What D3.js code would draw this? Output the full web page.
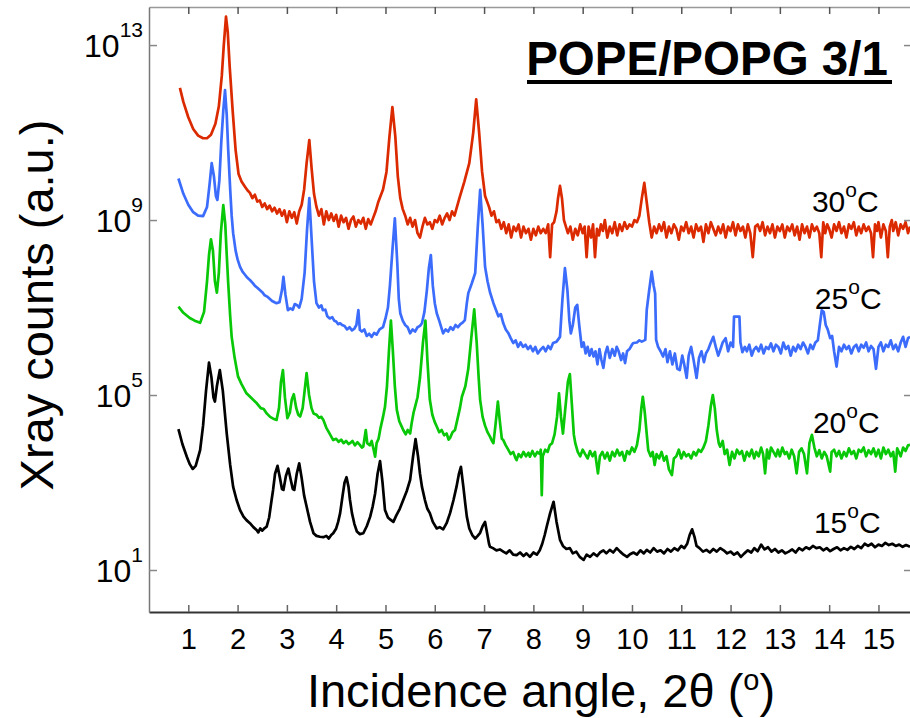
<!DOCTYPE html>
<html>
<head>
<meta charset="utf-8">
<script src="https://cdn.jsdelivr.net/npm/d3@7"></script>
<style>
  body { margin: 0; background: #fff; }
  svg text { font-family: "Liberation Sans", Arial, sans-serif; fill: #000; }
</style>
</head>
<body>
<svg id="chart" width="910" height="718"></svg>
<script>
// values: [angle 2theta (deg), log10 of xray counts]
var series30 = [[0.83,12.02],[0.9,11.7],[1.0,11.35],[1.1,11.08],[1.2,10.93],[1.3,10.87],[1.38,10.87],[1.46,10.95],[1.55,11.2],[1.62,11.6],[1.68,12.3],[1.72,13.0],[1.765,13.65],[1.8,13.3],[1.84,12.5],[1.9,11.5],[1.96,10.6],[2.02,10.05],[2.08,9.88],[2.15,9.76],[2.2,9.68],[2.25,9.62],[2.3,9.5],[2.35,9.58],[2.4,9.42],[2.45,9.45],[2.5,9.3],[2.55,9.38],[2.6,9.25],[2.65,9.33],[2.7,9.2],[2.75,9.28],[2.8,9.15],[2.85,9.25],[2.9,9.1],[2.95,9.22],[3.0,8.95],[3.05,9.2],[3.1,9.05],[3.15,9.18],[3.2,8.92],[3.25,9.2],[3.3,9.35],[3.35,9.7],[3.4,10.3],[3.455,10.83],[3.5,10.2],[3.55,9.6],[3.6,9.3],[3.65,9.1],[3.7,9.25],[3.75,8.9],[3.8,9.2],[3.85,9.0],[3.9,9.15],[3.95,8.98],[4.0,9.12],[4.05,8.85],[4.1,9.1],[4.15,8.95],[4.2,9.05],[4.25,8.8],[4.3,9.0],[4.35,9.08],[4.4,8.85],[4.45,9.0],[4.5,8.92],[4.55,9.05],[4.6,8.8],[4.65,9.02],[4.7,8.9],[4.75,9.05],[4.8,9.2],[4.85,9.4],[4.95,9.7],[5.02,10.1],[5.08,10.9],[5.14,11.58],[5.2,10.9],[5.25,10.0],[5.3,9.5],[5.35,9.25],[5.4,9.1],[5.45,8.9],[5.5,9.05],[5.55,8.85],[5.6,9.0],[5.65,8.7],[5.7,8.6],[5.75,8.85],[5.8,9.05],[5.85,8.9],[5.9,8.95],[5.95,8.8],[6.0,9.0],[6.05,8.95],[6.1,9.1],[6.15,8.9],[6.2,9.05],[6.25,9.15],[6.3,9.0],[6.35,9.2],[6.4,9.1],[6.45,9.3],[6.5,9.5],[6.6,9.88],[6.7,10.3],[6.78,11.0],[6.84,11.76],[6.9,11.0],[6.96,10.1],[7.02,9.55],[7.1,9.3],[7.15,9.1],[7.2,9.2],[7.25,8.95],[7.3,9.0],[7.35,8.8],[7.4,8.95],[7.45,8.7],[7.5,8.9],[7.55,8.6],[7.6,8.85],[7.65,8.75],[7.7,8.9],[7.75,8.6],[7.8,8.85],[7.85,8.7],[7.9,8.8],[7.95,8.55],[8.0,8.8],[8.05,8.65],[8.1,8.85],[8.15,8.7],[8.2,8.8],[8.25,8.7],[8.3,8.9],[8.34,8.15],[8.38,8.9],[8.42,8.95],[8.47,9.2],[8.5,9.5],[8.54,9.78],[8.58,9.5],[8.62,9.0],[8.66,8.85],[8.7,8.7],[8.75,8.85],[8.8,8.55],[8.85,8.8],[8.9,8.65],[8.95,8.9],[9.0,8.7],[9.04,8.85],[9.08,8.15],[9.12,8.85],[9.17,8.6],[9.21,8.9],[9.25,8.15],[9.29,8.8],[9.33,8.65],[9.37,8.9],[9.41,8.75],[9.45,9.0],[9.5,8.6],[9.55,8.85],[9.6,8.7],[9.65,8.95],[9.7,8.65],[9.75,8.9],[9.8,8.75],[9.85,8.95],[9.9,8.8],[9.95,8.9],[10.0,8.85],[10.05,9.0],[10.1,8.95],[10.15,9.1],[10.2,9.5],[10.25,9.85],[10.3,9.4],[10.35,8.95],[10.4,8.6],[10.45,8.85],[10.5,8.7],[10.55,8.9],[10.6,8.75],[10.65,8.95],[10.7,8.6],[10.75,8.85],[10.8,8.7],[10.85,8.9],[10.9,8.8],[10.95,8.55],[11.0,8.85],[11.05,8.75],[11.1,8.95],[11.15,8.7],[11.2,8.85],[11.25,8.6],[11.3,8.9],[11.35,8.75],[11.4,8.85],[11.45,8.5],[11.5,8.9],[11.55,8.7],[11.6,8.95],[11.65,8.8],[11.7,8.65],[11.75,8.85],[11.8,8.7],[11.85,8.9],[11.9,8.6],[11.95,8.85],[12.0,8.75],[12.05,8.95],[12.1,8.65],[12.15,8.9],[12.2,8.75],[12.25,8.85],[12.3,8.6],[12.35,8.9],[12.4,8.7],[12.45,8.15],[12.5,8.85],[12.55,8.9],[12.6,8.75],[12.65,8.95],[12.7,8.65],[12.75,8.85],[12.8,8.7],[12.85,8.9],[12.9,8.6],[12.95,8.85],[13.0,8.75],[13.05,8.9],[13.1,8.6],[13.15,8.85],[13.2,8.75],[13.25,8.9],[13.3,8.65],[13.35,8.85],[13.4,8.55],[13.45,8.9],[13.5,8.7],[13.55,8.85],[13.6,8.6],[13.65,8.9],[13.7,8.75],[13.75,8.85],[13.8,8.7],[13.84,8.15],[13.88,8.95],[13.92,8.7],[13.96,8.9],[14.0,8.8],[14.05,8.6],[14.1,8.9],[14.15,8.75],[14.2,8.95],[14.25,8.7],[14.3,8.85],[14.35,8.6],[14.4,8.9],[14.45,8.8],[14.5,8.95],[14.55,8.65],[14.6,8.85],[14.65,8.7],[14.7,8.9],[14.75,8.75],[14.8,8.85],[14.85,8.7],[14.89,8.15],[14.93,8.9],[14.97,8.75],[15.0,8.95],[15.05,8.6],[15.1,8.9],[15.15,8.75],[15.19,8.15],[15.23,8.85],[15.27,9.0],[15.3,8.75],[15.35,8.95],[15.4,8.65],[15.45,8.9],[15.5,8.8],[15.55,8.95],[15.6,8.7],[15.64,8.85]];

var series25 = [[0.80,9.95],[0.9,9.6],[1.0,9.35],[1.1,9.18],[1.2,9.1],[1.3,9.09],[1.38,9.3],[1.43,9.8],[1.475,10.3],[1.52,10.0],[1.56,9.55],[1.59,9.46],[1.63,9.9],[1.67,10.8],[1.71,11.5],[1.745,11.97],[1.78,11.4],[1.81,10.6],[1.85,9.7],[1.88,9.1],[1.91,8.7],[1.96,8.3],[2.0,8.1],[2.05,7.93],[2.1,7.82],[2.15,7.75],[2.2,7.68],[2.25,7.63],[2.3,7.57],[2.35,7.5],[2.4,7.45],[2.45,7.4],[2.5,7.35],[2.55,7.28],[2.6,7.25],[2.65,7.2],[2.7,7.15],[2.75,7.12],[2.79,7.1],[2.85,7.12],[2.9,7.4],[2.93,7.7],[2.97,7.3],[3.02,6.94],[3.07,6.98],[3.12,6.95],[3.16,7.08],[3.2,7.06],[3.25,7.0],[3.3,7.2],[3.36,7.8],[3.41,8.8],[3.455,9.5],[3.5,8.6],[3.55,7.6],[3.6,7.1],[3.65,7.0],[3.7,7.05],[3.73,6.94],[3.78,6.95],[3.82,6.8],[3.87,6.75],[3.92,6.78],[3.96,6.7],[4.0,6.68],[4.04,6.62],[4.08,6.64],[4.12,6.6],[4.17,6.58],[4.22,6.5],[4.27,6.55],[4.32,6.48],[4.37,6.52],[4.41,6.6],[4.45,6.94],[4.48,6.49],[4.52,6.45],[4.57,6.5],[4.62,6.35],[4.67,6.4],[4.72,6.33],[4.77,6.42],[4.82,6.38],[4.88,6.5],[4.95,6.55],[5.0,6.75],[5.05,7.0],[5.09,7.5],[5.14,8.3],[5.19,9.04],[5.24,8.0],[5.27,7.2],[5.3,6.87],[5.35,6.7],[5.4,6.6],[5.45,6.55],[5.5,6.41],[5.55,6.5],[5.6,6.45],[5.65,6.55],[5.7,6.58],[5.74,6.64],[5.79,6.9],[5.84,7.4],[5.88,7.9],[5.92,8.2],[5.96,7.5],[6.0,7.1],[6.04,6.87],[6.09,6.7],[6.13,6.55],[6.17,6.41],[6.22,6.5],[6.27,6.45],[6.32,6.55],[6.37,6.49],[6.42,6.6],[6.47,6.55],[6.52,6.62],[6.57,6.66],[6.61,6.71],[6.65,7.1],[6.68,7.33],[6.75,7.55],[6.82,7.79],[6.87,8.8],[6.92,9.69],[6.97,8.9],[7.02,7.93],[7.07,7.6],[7.12,7.35],[7.19,7.1],[7.24,6.95],[7.29,6.8],[7.34,6.85],[7.39,6.64],[7.44,6.5],[7.49,6.42],[7.54,6.3],[7.59,6.19],[7.64,6.25],[7.69,6.1],[7.74,6.2],[7.79,6.1],[7.84,6.15],[7.89,6.05],[7.94,6.12],[7.99,6.0],[8.04,6.1],[8.09,5.95],[8.14,6.03],[8.2,6.1],[8.25,6.0],[8.3,6.12],[8.35,6.05],[8.4,6.19],[8.47,6.22],[8.54,6.33],[8.59,7.2],[8.64,7.9],[8.69,7.4],[8.73,6.7],[8.76,6.41],[8.8,6.6],[8.85,7.0],[8.89,7.06],[8.93,6.6],[8.98,6.1],[9.02,6.2],[9.06,5.95],[9.1,6.1],[9.14,5.9],[9.18,6.05],[9.22,5.88],[9.26,6.0],[9.3,5.7],[9.34,6.05],[9.38,5.8],[9.42,5.62],[9.46,5.95],[9.5,6.1],[9.55,5.85],[9.6,6.05],[9.65,5.9],[9.69,6.1],[9.73,6.0],[9.78,5.8],[9.82,5.95],[9.86,5.73],[9.9,6.0],[9.95,6.05],[10.0,6.15],[10.03,6.19],[10.1,6.2],[10.15,6.25],[10.2,6.22],[10.27,6.26],[10.3,6.95],[10.35,7.4],[10.4,7.82],[10.44,7.5],[10.47,7.32],[10.49,6.26],[10.53,6.1],[10.58,6.0],[10.63,5.88],[10.68,6.05],[10.72,5.75],[10.77,6.0],[10.82,5.7],[10.87,5.95],[10.92,5.6],[10.97,5.57],[11.02,5.9],[11.06,5.7],[11.11,5.39],[11.15,5.9],[11.2,6.1],[11.25,5.8],[11.31,5.39],[11.36,5.85],[11.41,6.0],[11.46,5.75],[11.5,5.95],[11.55,6.05],[11.6,6.2],[11.65,6.33],[11.7,6.1],[11.75,5.9],[11.79,6.03],[11.84,6.2],[11.9,6.3],[11.95,6.0],[12.0,6.2],[12.05,6.1],[12.07,6.79],[12.18,6.79],[12.2,6.2],[12.24,5.98],[12.29,6.1],[12.33,6.0],[12.38,6.15],[12.43,5.9],[12.47,6.03],[12.52,6.1],[12.57,6.0],[12.62,6.15],[12.67,5.95],[12.72,6.1],[12.77,6.05],[12.82,6.18],[12.87,6.0],[12.92,6.15],[12.97,6.1],[13.02,5.95],[13.07,6.2],[13.12,6.05],[13.17,6.12],[13.22,5.9],[13.27,6.1],[13.32,6.0],[13.37,6.15],[13.42,6.05],[13.47,6.2],[13.52,6.1],[13.57,5.95],[13.62,6.15],[13.67,6.05],[13.72,6.2],[13.77,6.25],[13.81,6.6],[13.85,6.94],[13.89,6.9],[13.93,6.6],[13.97,6.5],[14.02,6.3],[14.06,6.35],[14.1,6.0],[14.15,5.65],[14.2,6.1],[14.25,6.0],[14.3,6.15],[14.35,6.05],[14.4,6.12],[14.45,5.95],[14.5,6.1],[14.55,6.15],[14.6,6.0],[14.65,6.15],[14.7,6.08],[14.75,6.2],[14.8,6.0],[14.85,6.12],[14.9,6.05],[14.95,5.6],[15.0,6.1],[15.05,6.2],[15.1,6.0],[15.15,6.15],[15.2,6.1],[15.25,6.25],[15.3,6.05],[15.35,6.15],[15.4,6.0],[15.45,6.2],[15.5,6.33],[15.55,6.1],[15.6,6.3],[15.64,6.33]];

var series20 = [[0.80,7.02],[0.9,6.88],[1.03,6.76],[1.13,6.7],[1.24,6.65],[1.32,6.9],[1.38,7.6],[1.42,8.2],[1.46,8.56],[1.5,8.3],[1.54,7.6],[1.58,7.34],[1.62,7.8],[1.66,8.7],[1.71,9.34],[1.75,8.9],[1.78,8.2],[1.81,7.55],[1.85,6.8],[1.88,6.33],[1.94,5.85],[2.01,5.42],[2.08,5.25],[2.18,5.04],[2.28,4.93],[2.39,4.81],[2.47,4.7],[2.53,4.68],[2.59,4.58],[2.66,4.5],[2.74,4.45],[2.79,4.43],[2.84,4.7],[2.88,5.3],[2.92,5.57],[2.96,4.95],[3.01,4.47],[3.06,4.6],[3.1,4.9],[3.14,5.02],[3.19,4.7],[3.23,4.55],[3.27,4.51],[3.32,4.7],[3.36,5.1],[3.4,5.5],[3.45,5.0],[3.5,4.7],[3.54,4.58],[3.6,4.55],[3.65,4.48],[3.7,4.5],[3.74,4.43],[3.8,4.25],[3.85,4.15],[3.9,4.05],[3.94,3.97],[4.0,4.0],[4.05,3.93],[4.1,3.98],[4.15,3.9],[4.2,3.95],[4.25,3.88],[4.28,3.9],[4.33,3.95],[4.38,3.85],[4.43,3.92],[4.48,3.86],[4.52,3.8],[4.55,3.82],[4.6,4.2],[4.63,3.9],[4.68,3.85],[4.72,3.95],[4.76,3.75],[4.79,3.59],[4.82,3.9],[4.86,4.0],[4.9,4.25],[4.95,4.5],[4.99,4.73],[5.03,5.2],[5.07,6.0],[5.11,6.7],[5.15,6.0],[5.19,5.2],[5.23,4.66],[5.28,4.4],[5.32,4.3],[5.36,4.2],[5.41,4.1],[5.45,4.2],[5.5,4.12],[5.53,4.35],[5.57,4.6],[5.6,4.73],[5.65,4.95],[5.7,5.4],[5.76,6.2],[5.81,6.7],[5.85,5.8],[5.9,4.89],[5.95,4.55],[6.0,4.38],[6.04,4.28],[6.09,4.15],[6.14,4.2],[6.19,4.08],[6.24,4.12],[6.28,3.98],[6.31,4.02],[6.36,4.15],[6.41,4.2],[6.46,4.45],[6.51,4.7],[6.55,4.96],[6.62,5.2],[6.68,5.6],[6.74,6.3],[6.8,6.96],[6.85,6.2],[6.89,5.4],[6.92,4.89],[6.97,4.5],[7.02,4.3],[7.07,4.15],[7.12,4.05],[7.16,3.95],[7.19,3.9],[7.23,4.3],[7.28,4.85],[7.32,4.4],[7.36,4.0],[7.39,3.97],[7.44,3.85],[7.49,3.75],[7.54,3.65],[7.59,3.7],[7.64,3.55],[7.66,3.51],[7.7,3.65],[7.75,3.58],[7.8,3.7],[7.85,3.6],[7.9,3.68],[7.93,3.59],[7.98,3.72],[8.03,3.6],[8.08,3.7],[8.13,3.65],[8.15,3.75],[8.17,2.71],[8.19,3.6],[8.24,3.75],[8.29,3.7],[8.33,3.85],[8.38,3.9],[8.43,4.1],[8.48,4.5],[8.52,5.04],[8.56,4.5],[8.6,4.12],[8.64,4.6],[8.7,5.3],[8.74,5.48],[8.78,4.8],[8.82,4.1],[8.85,3.9],[8.9,3.7],[8.95,3.6],[9.0,3.75],[9.05,3.65],[9.1,3.55],[9.15,3.72],[9.2,3.6],[9.25,3.7],[9.28,3.45],[9.31,3.21],[9.35,3.6],[9.4,3.7],[9.45,3.55],[9.5,3.68],[9.55,3.5],[9.6,3.7],[9.65,3.6],[9.7,3.75],[9.75,3.62],[9.8,3.7],[9.85,3.5],[9.9,3.72],[9.95,3.65],[10.0,3.8],[10.05,3.7],[10.1,3.85],[10.15,4.2],[10.19,4.7],[10.22,4.96],[10.26,4.6],[10.3,4.1],[10.33,3.74],[10.38,3.6],[10.42,3.7],[10.46,3.4],[10.5,3.65],[10.55,3.55],[10.6,3.7],[10.65,3.5],[10.7,3.6],[10.75,3.3],[10.81,3.17],[10.85,3.55],[10.9,3.6],[10.95,3.75],[11.0,3.55],[11.05,3.7],[11.1,3.6],[11.15,3.65],[11.2,3.55],[11.25,3.7],[11.3,3.62],[11.35,3.75],[11.4,3.7],[11.45,3.8],[11.5,3.95],[11.55,4.3],[11.6,4.75],[11.64,5.0],[11.68,4.7],[11.72,4.2],[11.76,3.9],[11.79,3.82],[11.84,3.95],[11.88,3.65],[11.93,3.75],[11.98,3.4],[12.03,3.7],[12.08,3.55],[12.13,3.75],[12.18,3.65],[12.23,3.72],[12.28,3.5],[12.33,3.7],[12.38,3.6],[12.43,3.75],[12.48,3.55],[12.52,3.7],[12.57,3.6],[12.62,3.8],[12.66,3.65],[12.7,3.21],[12.74,3.75],[12.78,3.55],[12.82,3.8],[12.87,3.7],[12.92,3.6],[12.96,3.75],[13.0,3.6],[13.05,3.8],[13.1,3.65],[13.14,3.7],[13.19,3.55],[13.24,3.75],[13.29,3.6],[13.34,3.21],[13.39,3.7],[13.44,3.78],[13.49,3.65],[13.55,3.21],[13.6,3.9],[13.65,4.09],[13.7,3.8],[13.75,3.6],[13.8,3.74],[13.85,3.55],[13.9,3.7],[13.95,3.6],[14.02,3.25],[14.05,3.7],[14.1,3.75],[14.15,3.6],[14.2,3.72],[14.25,3.55],[14.3,3.7],[14.35,3.6],[14.4,3.78],[14.45,3.65],[14.5,3.72],[14.55,3.55],[14.6,3.75],[14.65,3.7],[14.7,3.8],[14.75,3.6],[14.8,3.74],[14.85,3.65],[14.9,3.78],[14.95,3.6],[15.0,3.75],[15.05,3.55],[15.1,3.8],[15.15,3.65],[15.2,3.75],[15.25,3.6],[15.3,3.7],[15.34,3.25],[15.38,3.78],[15.45,3.6],[15.5,3.8],[15.55,3.72],[15.6,3.85],[15.64,3.86]];

var series15 = [[0.80,4.22],[0.88,3.88],[0.97,3.59],[1.03,3.42],[1.09,3.31],[1.15,3.38],[1.24,3.74],[1.3,4.3],[1.36,5.1],[1.42,5.74],[1.47,5.4],[1.51,4.95],[1.54,4.85],[1.58,5.2],[1.64,5.57],[1.7,5.1],[1.78,4.12],[1.85,3.4],[1.91,2.9],[1.98,2.6],[2.05,2.37],[2.12,2.22],[2.18,2.14],[2.25,2.07],[2.32,1.98],[2.39,1.91],[2.42,1.86],[2.46,1.95],[2.5,1.9],[2.55,1.96],[2.59,1.99],[2.64,2.2],[2.69,2.6],[2.72,2.83],[2.76,3.2],[2.81,3.38],[2.86,3.1],[2.9,2.85],[2.93,2.83],[2.98,3.15],[3.03,3.32],[3.08,3.05],[3.12,2.85],[3.15,2.83],[3.2,3.2],[3.25,3.44],[3.3,3.1],[3.35,2.7],[3.4,2.45],[3.47,2.1],[3.54,1.84],[3.6,1.78],[3.67,1.76],[3.74,1.75],[3.8,1.78],[3.85,1.72],[3.9,1.8],[3.94,1.84],[4.0,1.95],[4.04,2.1],[4.08,2.3],[4.13,2.7],[4.17,3.0],[4.21,3.12],[4.25,2.9],[4.28,2.6],[4.32,2.3],[4.37,2.05],[4.42,1.88],[4.48,1.82],[4.55,1.84],[4.62,2.0],[4.69,2.22],[4.74,2.45],[4.79,2.75],[4.84,3.2],[4.89,3.49],[4.94,3.0],[4.99,2.37],[5.05,2.2],[5.1,2.15],[5.16,2.1],[5.22,2.25],[5.29,2.4],[5.36,2.6],[5.43,2.8],[5.5,3.06],[5.56,3.6],[5.61,3.99],[5.66,3.6],[5.7,3.2],[5.74,2.9],[5.8,2.6],[5.85,2.4],[5.9,2.3],[5.96,2.1],[6.04,1.95],[6.1,1.98],[6.17,1.93],[6.24,2.07],[6.31,2.3],[6.38,2.6],[6.44,2.9],[6.49,3.2],[6.53,3.36],[6.58,2.9],[6.62,2.5],[6.65,2.22],[6.7,1.95],[6.76,1.8],[6.82,1.72],[6.87,1.78],[6.92,1.85],[6.97,2.0],[7.02,2.1],[7.06,1.85],[7.1,1.6],[7.12,1.53],[7.18,1.5],[7.25,1.45],[7.32,1.47],[7.39,1.42],[7.45,1.38],[7.52,1.45],[7.59,1.35],[7.66,1.34],[7.73,1.4],[7.8,1.32],[7.86,1.38],[7.93,1.3],[8.0,1.4],[8.07,1.35],[8.13,1.45],[8.18,1.6],[8.23,1.8],[8.27,1.99],[8.34,2.3],[8.41,2.56],[8.47,2.1],[8.54,1.69],[8.6,1.55],[8.67,1.48],[8.74,1.5],[8.8,1.38],[8.87,1.42],[8.94,1.3],[9.02,1.23],[9.08,1.35],[9.15,1.3],[9.22,1.38],[9.29,1.32],[9.35,1.4],[9.42,1.45],[9.48,1.38],[9.55,1.46],[9.62,1.4],[9.69,1.5],[9.76,1.42],[9.83,1.35],[9.9,1.3],[9.96,1.36],[10.03,1.4],[10.1,1.35],[10.17,1.45],[10.24,1.38],[10.3,1.46],[10.37,1.4],[10.44,1.5],[10.51,1.42],[10.58,1.45],[10.65,1.38],[10.72,1.48],[10.79,1.42],[10.86,1.5],[10.93,1.45],[11.0,1.55],[11.06,1.5],[11.12,1.6],[11.17,1.8],[11.22,1.93],[11.27,1.75],[11.31,1.55],[11.37,1.5],[11.44,1.42],[11.51,1.46],[11.58,1.4],[11.65,1.48],[11.72,1.42],[11.79,1.5],[11.86,1.45],[11.93,1.38],[12.0,1.42],[12.07,1.35],[12.14,1.4],[12.21,1.3],[12.28,1.38],[12.35,1.45],[12.42,1.4],[12.48,1.5],[12.55,1.43],[12.62,1.58],[12.69,1.47],[12.76,1.52],[12.83,1.42],[12.9,1.48],[12.97,1.4],[13.04,1.45],[13.11,1.38],[13.18,1.42],[13.25,1.47],[13.32,1.4],[13.39,1.5],[13.46,1.45],[13.53,1.52],[13.6,1.48],[13.67,1.55],[13.74,1.5],[13.81,1.52],[13.88,1.45],[13.95,1.5],[14.02,1.43],[14.09,1.48],[14.16,1.52],[14.23,1.45],[14.3,1.5],[14.37,1.46],[14.44,1.53],[14.51,1.48],[14.58,1.55],[14.65,1.5],[14.72,1.6],[14.79,1.55],[14.86,1.6],[14.93,1.52],[15.0,1.58],[15.07,1.55],[15.14,1.62],[15.21,1.57],[15.28,1.6],[15.35,1.55],[15.42,1.58],[15.49,1.53],[15.56,1.57],[15.64,1.53]];

var seriesNames = ["30", "25", "20", "15"];
var seriesColors = ["#dc2a00", "#3b6cfb", "#08c808", "#000000"];
var xTicks = [1, 2, 3, 4, 5, 6, 7, 8, 9, 10, 11, 12, 13, 14, 15];
var yTickExps = [1, 5, 9, 13];
// label anchor (angle, log10) for each temperature label
var labelAngles = [13.65, 13.71, 13.67, 13.69];
var labelLogs = [9.18, 6.97, 4.13, 1.85];

var allSeries = [series30, series25, series20, series15];

var svg = d3.select("#chart");
// plot frame (avoid window.top etc.)
var pL = 149, pR = 911, pT = 7, pB = 612;

var x = d3.scaleLinear().domain([0.203, 15.66]).range([pL, pR]);
var y = d3.scaleLog().domain([Math.pow(10, 0.04), Math.pow(10, 13.87)]).range([pB, pT]);

svg.append("clipPath").attr("id", "clip")
  .append("rect").attr("x", pL).attr("y", pT).attr("width", pR - pL).attr("height", pB - pT);

var line = d3.line()
  .x(function(d) { return x(d[0]); })
  .y(function(d) { return y(Math.pow(10, d[1])); });

var plot = svg.append("g").attr("clip-path", "url(#clip)");
plot.selectAll("path.curve")
  .data(allSeries)
  .enter()
  .append("path")
  .attr("class", "curve")
  .attr("d", line)
  .attr("fill", "none")
  .attr("stroke", function(d, i) { return seriesColors[i]; })
  .attr("stroke-width", 2.7)
  .attr("stroke-linejoin", "round");

// axes: ticks point inward on every side
var yTickVals = yTickExps.map(function(e) { return Math.pow(10, e); });

var gBottom = svg.append("g")
  .attr("transform", "translate(0," + pB + ")")
  .call(d3.axisBottom(x).tickValues(xTicks).tickSize(-7).tickSizeOuter(0).tickPadding(16));
gBottom.select(".domain").attr("stroke", "#333").attr("stroke-width", 2);
gBottom.selectAll(".tick line").attr("stroke", "#666").attr("stroke-width", 1.5);
gBottom.selectAll(".tick text")
  .attr("font-size", 29)
  .attr("font-family", "Liberation Sans, Arial, sans-serif")
  .attr("fill", "#000");

var gTop = svg.append("g")
  .attr("transform", "translate(0," + pT + ")")
  .call(d3.axisTop(x).tickValues(xTicks).tickSize(-7).tickSizeOuter(0).tickFormat(""));
gTop.select(".domain").attr("stroke", "#999").attr("stroke-width", 1.5);
gTop.selectAll(".tick line").attr("stroke", "#555").attr("stroke-width", 1.5);

var gLeft = svg.append("g")
  .attr("transform", "translate(" + pL + ",0)")
  .call(d3.axisLeft(y).tickValues(yTickVals).tickSize(-8).tickSizeOuter(0).tickFormat(""));
gLeft.select(".domain").attr("stroke", "#777").attr("stroke-width", 1.5);
gLeft.selectAll(".tick line").attr("stroke", "#888").attr("stroke-width", 1.5);

var gRight = svg.append("g")
  .attr("transform", "translate(" + pR + ",0)")
  .call(d3.axisRight(y).tickValues(yTickVals).tickSize(-7).tickSizeOuter(0).tickFormat(""));
gRight.select(".domain").attr("stroke", "#777").attr("stroke-width", 1.5);
gRight.selectAll(".tick line").attr("stroke", "#888").attr("stroke-width", 1.5);

// y tick labels 10^n
var yLab = svg.append("g").selectAll("text")
  .data(yTickExps)
  .enter()
  .append("text")
  .attr("x", 143)
  .attr("y", function(d) { return y(Math.pow(10, d)) + 12; })
  .attr("text-anchor", "end")
  .attr("font-size", 32);
yLab.append("tspan").text("10");
yLab.append("tspan").attr("dy", -20).attr("font-size", 21).text(function(d) { return d; });

// axis titles
svg.append("text")
  .attr("transform", "translate(53,305) rotate(-90)")
  .attr("text-anchor", "middle")
  .attr("font-size", 47)
  .text("Xray counts (a.u.)");

var xt = svg.append("text")
  .attr("x", 541)
  .attr("y", 707)
  .attr("text-anchor", "middle")
  .attr("font-size", 47);
xt.append("tspan").text("Incidence angle, 2\u03b8 (");
xt.append("tspan").attr("dy", -17).attr("font-size", 29).text("o");
xt.append("tspan").attr("dy", 17).text(")");

// title with underline
svg.append("text")
  .attr("x", 707)
  .attr("y", 75)
  .attr("text-anchor", "middle")
  .attr("font-size", 47.5)
  .attr("font-weight", "bold")
  .text("POPE/POPG 3/1");
svg.append("line")
  .attr("x1", 527).attr("x2", 892)
  .attr("y1", 82).attr("y2", 82)
  .attr("stroke", "#000").attr("stroke-width", 4);

// temperature labels
var tl = svg.append("g").selectAll("text")
  .data(seriesNames)
  .enter()
  .append("text")
  .attr("x", function(d, i) { return x(labelAngles[i]); })
  .attr("y", function(d, i) { return y(Math.pow(10, labelLogs[i])); })
  .attr("font-size", 30);
tl.append("tspan").text(function(d) { return d; });
tl.append("tspan").attr("dy", -15).attr("font-size", 21).text("o");
tl.append("tspan").attr("dy", 15).text("C");
</script>
</body>
</html>
